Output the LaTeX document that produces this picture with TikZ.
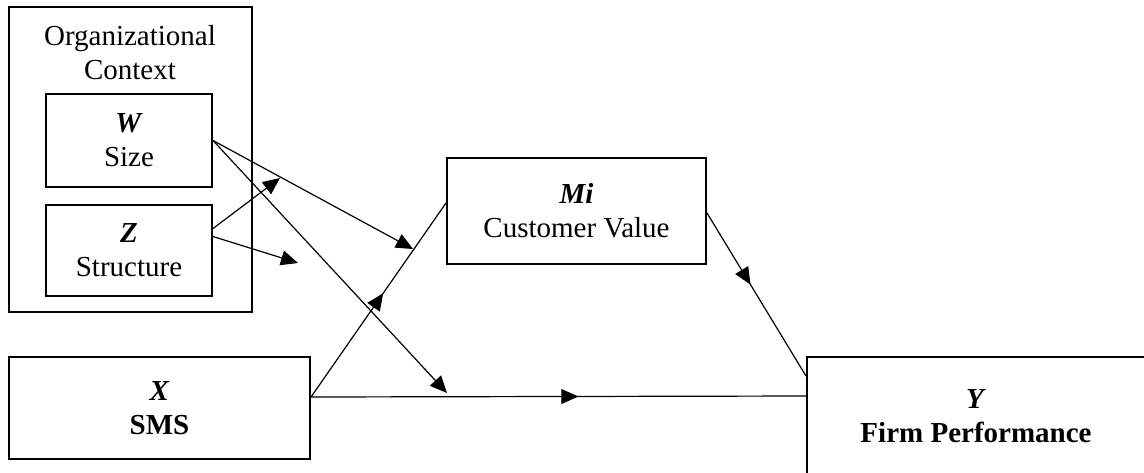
\documentclass[tikz,border=0pt]{standalone}
\usepackage{fontspec}
\setmainfont{Liberation Serif}
\usetikzlibrary{arrows.meta, decorations.markings}

\tikzset{
  box/.style={draw, line width=1pt, align=center, inner sep=0pt},
  link/.style={line width=0.6pt, -{Triangle[length=8.5pt, width=7.5pt]}},
  plain/.style={line width=0.6pt},
  midtip/.style={plain, postaction={decorate},
    decoration={markings, mark=at position #1 with {\arrow{Triangle[length=8.5pt, width=7.5pt]}}}},
}

\begin{document}
\begin{tikzpicture}[x=0.5pt, y=-0.5pt, font=\fontsize{14.5}{17}\selectfont]
  \useasboundingbox (0,0) rectangle (1144,472);
  \clip (0,0) rectangle (1144,472);
  % Organizational context
  \node[box, minimum width=121.5pt, minimum height=152.5pt] (ctx) at (130.5,159.5) {};
  \node[anchor=north, inner sep=0pt, align=center] (ctxtitle) at (130,25) {Organizational\\Context};
  \node[box, minimum width=83pt, minimum height=46.5pt] (W) at (129,140.5) {\textbf{\textit{W}}\\Size};
  \node[box, minimum width=83pt, minimum height=45.5pt] (Z) at (129,250.5) {\textbf{\textit{Z}}\\Structure};
  % Main path
  \node[box, minimum width=150.5pt, minimum height=51pt] (X) at (159.5,408) {\textbf{\textit{X}}\\\textbf{SMS}};
  \node[box, minimum width=129.5pt, minimum height=53pt] (Mi) at (576.5,211) {\textbf{\textit{Mi}}\\Customer Value};
  \node[box, minimum width=169pt, minimum height=59pt] (Y) at (976,416) {\textbf{\textit{Y}}\\\textbf{Firm Performance}};
  \coordinate (xout) at ([yshift=5.5pt]X.east);
  \draw[midtip=0.535] (xout) -- ([yshift=4pt]Mi.west);
  \draw[midtip=0.54] (xout) -- ([yshift=10pt]Y.west);
  \draw[midtip=0.44] ([yshift=-1pt]Mi.east) -- ([yshift=-10pt]Y.north west);
  % Moderators
  \coordinate (wmod) at (413,249);
  \coordinate (wdir) at (447,393);
  \coordinate (zmod) at (280,178);
  \coordinate (zdir) at (298,263);
  \draw[link] (W.east) -- (wmod);
  \draw[link] (W.east) -- (wdir);
  \draw[link] ([yshift=11pt]Z.east) -- (zmod);
  \draw[link] ([yshift=7pt]Z.east) -- (zdir);
\end{tikzpicture}
\end{document}
